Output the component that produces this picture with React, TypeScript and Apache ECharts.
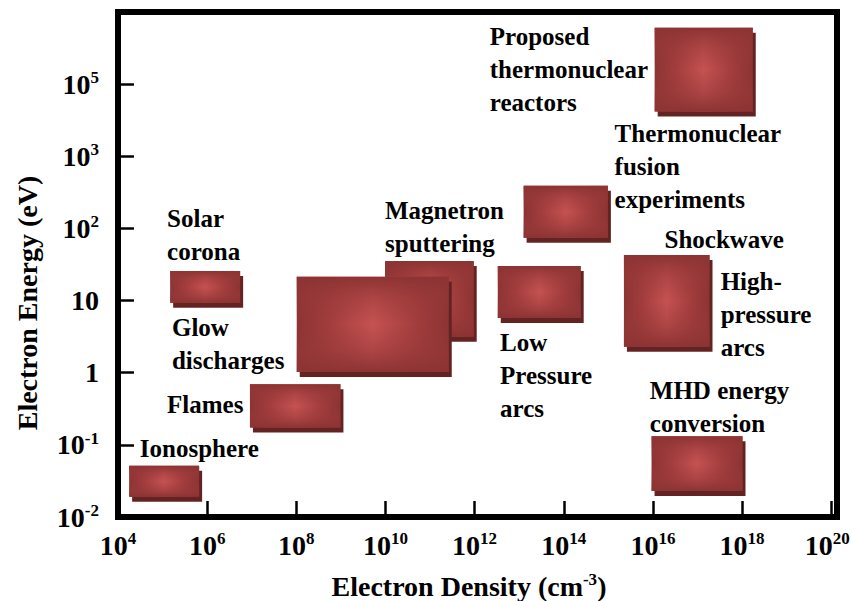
import React, { useEffect, useRef } from 'react';
import * as echarts from 'echarts';

// Plasma regions: log10 electron density range, and energy position (decade index on the axis)
const regionNames = [
  'Ionosphere', 'Solar corona', 'Flames', 'Magnetron sputtering', 'Glow discharges',
  'Low pressure arcs', 'Thermonuclear fusion experiments', 'Proposed thermonuclear reactors',
  'Shockwave / high-pressure arcs', 'MHD energy conversion',
];
const densityMinExp = [4.25, 5.17, 6.96, 9.99, 8.01, 12.52, 13.10, 16.04, 15.35, 15.97];
const densityMaxExp = [5.82, 6.74, 8.99, 11.98, 11.42, 14.38, 14.99, 18.24, 17.27, 18.01];
const energyMinPos = [-1.72, 0.97, -0.76, 0.50, 0.01, 0.76, 1.87, 3.62, 0.36, -1.64];
const energyMaxPos = [-1.29, 1.41, -0.16, 1.55, 1.33, 1.48, 2.59, 4.78, 1.63, -0.88];

// Annotation labels (left x in log10 density, first line centre in energy position)
const labelTexts = [
  'Proposed\nthermonuclear\nreactors',
  'Thermonuclear\nfusion\nexperiments',
  'Solar\ncorona',
  'Magnetron\nsputtering',
  'Glow\ndischarges',
  'Flames',
  'Ionosphere',
  'Low\nPressure\narcs',
  'Shockwave',
  'High-\npressure\narcs',
  'MHD energy\nconversion',
];
const labelX = [12.34, 15.14, 5.10, 9.99, 5.21, 5.10, 4.49, 12.57, 16.26, 17.52, 15.93];
const labelY = [4.654, 3.309, 2.131, 2.242, 0.620, -0.434, -1.057, 0.412, 1.840, 1.258, -0.253];

// Y tick labels for positions -2..5
const yTickBase = ['10', '10', '1', '10', '10', '10', '10', ''];
const yTickSup = ['-2', '-1', '', '', '2', '3', '5', ''];

const FONT = '"Liberation Serif", "Times New Roman", serif';

export default function App() {
  const ref = useRef<HTMLDivElement>(null);
  useEffect(() => {
    if (!ref.current) return;
    const chart = echarts.init(ref.current, undefined, { renderer: 'svg' });
    const rectData = regionNames.map((n, i) => [densityMinExp[i], densityMaxExp[i], energyMinPos[i], energyMaxPos[i], n]);
    const supRich = {
      b: { fontSize: 28, fontWeight: 'bold', fontFamily: FONT, color: '#000', lineHeight: 30 },
      s: { fontSize: 17, fontWeight: 'bold', fontFamily: FONT, color: '#000', lineHeight: 18, verticalAlign: 'top' },
      se: { fontSize: 17, fontWeight: 'bold', fontFamily: FONT, color: '#000', lineHeight: 18, verticalAlign: 'top', padding: [0, 8, 0, 0] },
    };
    const option: any = {
      animation: false,
      backgroundColor: '#fff',
      textStyle: { fontFamily: FONT, fontWeight: 'bold', color: '#000' },
      grid: {
        left: 118, right: 14, top: 12, bottom: 84,
        outerBoundsMode: 'none',
        containLabel: false,
        show: true, borderColor: '#000', borderWidth: 6, backgroundColor: 'transparent',
      },
      xAxis: {
        type: 'value', min: 4, max: 20.13, interval: 2,
        axisLine: { show: false, onZero: false },
        splitLine: { show: false },
        axisTick: { show: true, inside: true, length: 16, lineStyle: { color: '#000', width: 2.5 } },
        axisLabel: {
          margin: 13, rich: supRich,
          formatter: (v: number) => {
            if (Math.abs(v - Math.round(v)) > 1e-6) return '';
            const e = Math.round(v);
            return e >= 20 ? `{b|10}{se|${e}}` : `{b|10}{s|${e}}`;
          },
        },
      },
      yAxis: {
        type: 'value', min: -2, max: 5, interval: 1,
        axisLine: { show: false, onZero: false },
        splitLine: { show: false },
        axisTick: { show: true, inside: true, length: 16, lineStyle: { color: '#000', width: 2.5 } },
        axisLabel: {
          margin: 19, rich: supRich,
          formatter: (v: number) => {
            const i = Math.round(v) + 2;
            const b = yTickBase[i] || '';
            const s = yTickSup[i] || '';
            if (!b) return '';
            return s ? `{b|${b}}{s|${s}}` : `{b|${b}}`;
          },
        },
      },
      series: [
        {
          type: 'custom',
          clip: false,
          encode: { x: [0, 1], y: [2, 3] },
          data: rectData,
          renderItem: (params: any, api: any) => {
            const p0 = api.coord([api.value(0), api.value(3)]);
            const p1 = api.coord([api.value(1), api.value(2)]);
            const x = p0[0], y = p0[1], w = p1[0] - p0[0], h = p1[1] - p0[1];
            const hGrad = new echarts.graphic.LinearGradient(0, 0, 1, 0, [
              { offset: 0, color: '#8c3333' },
              { offset: 0.2, color: '#a13c3c' },
              { offset: 0.5, color: '#c65252' },
              { offset: 0.8, color: '#a13c3c' },
              { offset: 1, color: '#8c3333' },
            ]);
            const vGrad = new echarts.graphic.LinearGradient(0, 0, 0, 1, [
              { offset: 0, color: 'rgba(140,51,51,1)' },
              { offset: 0.25, color: 'rgba(150,56,56,0.45)' },
              { offset: 0.5, color: 'rgba(150,56,56,0)' },
              { offset: 0.75, color: 'rgba(150,56,56,0.45)' },
              { offset: 1, color: 'rgba(140,51,51,1)' },
            ]);
            return {
              type: 'group',
              children: [
                { type: 'rect', shape: { x: x + 3, y: y + 5, width: w, height: h }, style: { fill: '#642323' } },
                { type: 'rect', shape: { x, y, width: w, height: h }, style: { fill: hGrad } },
                { type: 'rect', shape: { x, y, width: w, height: h }, style: { fill: vGrad } },
              ],
            };
          },
        },
      ],
      graphic: [
        {
          type: 'text', x: 469, y: 586,
          style: {
            text: '{b|Electron Density (cm}{s|-3}{b|)}',
            rich: supRich,
            align: 'center', verticalAlign: 'middle',
          },
        },
        {
          type: 'text', x: 27, y: 303, rotation: Math.PI / 2,
          style: {
            text: 'Electron Energy (eV)',
            fill: '#000', fontSize: 28, fontWeight: 'bold', fontFamily: FONT,
            align: 'center', verticalAlign: 'middle',
          },
        },
      ],
    };
    chart.setOption(option);
    // annotation labels placed through the chart's own coordinate conversion
    const labelGraphics = labelTexts.map((t, i) => {
      const pt = chart.convertToPixel({ gridIndex: 0 }, [labelX[i], labelY[i]]) as number[];
      return {
        type: 'text',
        x: pt[0],
        y: pt[1] - 16.5,
        style: {
          text: t,
          fill: '#000',
          fontSize: 25,
          fontWeight: 'bold',
          fontFamily: FONT,
          lineHeight: 33,
          align: 'left',
          verticalAlign: 'top',
        },
      };
    });
    chart.setOption({ graphic: [...option.graphic, ...labelGraphics] });
    return () => chart.dispose();
  }, []);
  return <div ref={ref} style={{ position: 'fixed', left: 0, top: 0, width: 851, height: 601, background: '#fff' }} />;
}
